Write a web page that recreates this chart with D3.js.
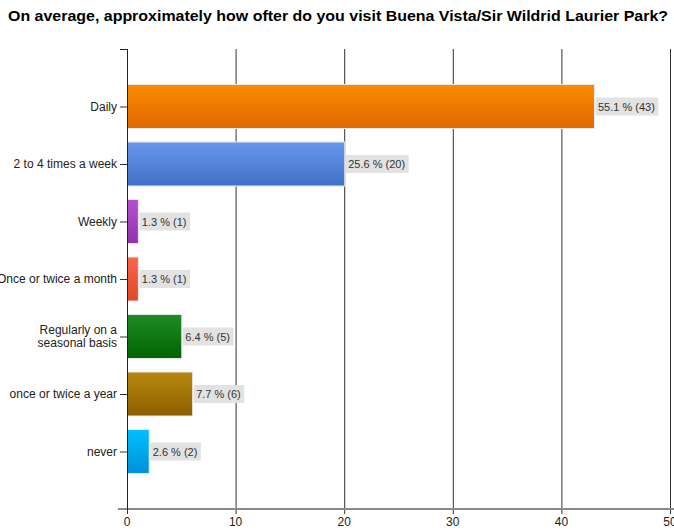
<!DOCTYPE html>
<html><head><meta charset="utf-8">
<script src="https://cdn.jsdelivr.net/npm/d3@7"></script>
<style>body{margin:0;background:#fff}svg{display:block}</style>
</head><body>
<svg id="c" width="674" height="531"></svg>
<script>
const categories = ["Daily","2 to 4 times a week","Weekly","Once or twice a month","Regularly on a\nseasonal basis","once or twice a year","never"];
const counts = [43,20,1,1,5,6,2];
const percents = ["55.1","25.6","1.3","1.3","6.4","7.7","2.6"];
const colorsTop = ["#fb8c00","#6797ea","#b650d2","#f8664a","#1e8c23","#b88a10","#00c0ff"];
const colorsBottom = ["#e06800","#4270c8","#9230b0","#e04828","#006400","#8c5e00","#0090d8"];
const xTicks = [0,10,20,30,40,50];
const title = "On average, approximately how ofter do you visit Buena Vista/Sir Wildrid Laurier Park?";

const svg = d3.select("#c");
const font = "'Liberation Sans', Arial, sans-serif";
const x = d3.scaleLinear().domain([0,50]).range([127,670]);
const y = d3.scaleLinear().domain([0,8]).range([49,509]);
const bh = 44;

svg.append("text").attr("x",8).attr("y",21).attr("font-family","'Liberation Sans', Arial, sans-serif")
  .attr("font-weight","bold").attr("font-size",15).attr("fill","#000")
  .attr("textLength",660).attr("lengthAdjust","spacingAndGlyphs").text(title);

const defs = svg.append("defs");
counts.forEach((c,i)=>{
  const g = defs.append("linearGradient").attr("id","g"+i).attr("x1",0).attr("y1",0).attr("x2",0).attr("y2",1);
  g.append("stop").attr("offset","0%").attr("stop-color",colorsTop[i]);
  g.append("stop").attr("offset","100%").attr("stop-color",colorsBottom[i]);
});

// gridlines
svg.append("g").selectAll("line").data(xTicks.slice(1)).join("line")
  .attr("x1",d=>x(d)+0.5).attr("x2",d=>x(d)+0.5).attr("y1",49).attr("y2",514)
  .attr("stroke","#333").attr("stroke-width",1);

// bottom axis
svg.append("line").attr("x1",118).attr("x2",674).attr("y1",509).attr("y2",509).attr("stroke","#8a8a8a").attr("stroke-width",2);
svg.append("line").attr("x1",127.5).attr("x2",127.5).attr("y1",509).attr("y2",514).attr("stroke","#333");
svg.append("g").selectAll("text").data(xTicks).join("text")
  .attr("x",d=>x(d)).attr("y",526).attr("text-anchor","middle")
  .attr("font-family",font).attr("font-size",12).attr("fill","#222").text(d=>d);

// bars
const bars = svg.append("g");
counts.forEach((c,i)=>{
  const cy = y(i+1);
  bars.append("rect").attr("x",x(0)+0.5).attr("y",cy-bh/2).attr("width",x(c)-x(0)).attr("height",bh)
    .attr("fill","url(#g"+i+")").attr("stroke","#e8e8e8").attr("stroke-width",1);
  const lbl = percents[i]+" % ("+c+")";
  const t = bars.append("text").attr("x",x(c)+4).attr("y",cy+4).attr("font-family",font)
    .attr("font-size",11).attr("fill","#333").text(lbl);
  const w = t.node().getComputedTextLength();
  bars.insert("rect", function(){return t.node();}).attr("x",x(c)+1.5).attr("y",cy-9).attr("width",w+6).attr("height",18).attr("fill","#e2e2e2");
});

// left axis
svg.append("line").attr("x1",127.5).attr("x2",127.5).attr("y1",49).attr("y2",509).attr("stroke","#222");
svg.append("line").attr("x1",120).attr("x2",127.5).attr("y1",49.5).attr("y2",49.5).attr("stroke","#222");
const yl = svg.append("g");
categories.forEach((c,i)=>{
  const cy = y(i+1);
  yl.append("line").attr("x1",120).attr("x2",127).attr("y1",cy+0.5).attr("y2",cy+0.5).attr("stroke","#333");
  const lines = c.split("\n");
  lines.forEach((l,j)=>{
    yl.append("text").attr("x",117).attr("y",cy+4+(j-(lines.length-1)/2)*13).attr("text-anchor","end")
      .attr("font-family",font).attr("font-size",12).attr("fill","#222").text(l);
  });
});
</script>
</body></html>
